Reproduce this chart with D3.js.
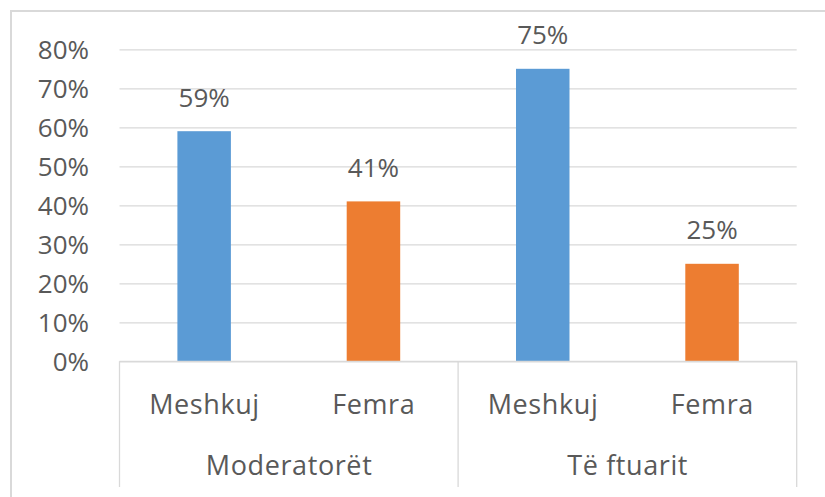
<!DOCTYPE html>
<html>
<head>
<meta charset="utf-8">
<script src="https://cdn.jsdelivr.net/npm/d3@7/dist/d3.min.js"></script>
<style>
  html, body { margin: 0; padding: 0; background: #fff; }
  svg { display: block; font-family: "Open Sans", "Noto Sans", sans-serif; }
</style>
</head>
<body>
<svg id="chart" width="825" height="497"></svg>
<script>
// Gender split of moderators and guests
const groups = ["Moderatorët", "Të ftuarit"];
const categories = ["Meshkuj", "Femra", "Meshkuj", "Femra"];
const categoryGroup = [0, 0, 1, 1];
const values = [0.59, 0.41, 0.75, 0.25];
const series = ["Meshkuj", "Femra"];
const tickValues = [0, 0.1, 0.2, 0.3, 0.4, 0.5, 0.6, 0.7, 0.8];

const W = 825, H = 497;
const plot = { left: 119.5, right: 796.7, top: 49.3, bottom: 361.3 };
const axisBottom = 487;
const gridColor = "#d9d9d9";
const textColor = "#595959";
const colors = d3.scaleOrdinal().domain(series).range(["#5b9bd5", "#ed7d31"]);

const svg = d3.select("#chart");

// Frame (top and left edges)
svg.append("path")
  .attr("d", `M11,${H + 5}V11H${W + 5}`)
  .attr("fill", "none")
  .attr("stroke", gridColor)
  .attr("stroke-width", 2);

const keys = categories.map((c, i) => i);
const x = d3.scaleBand().domain(keys).range([plot.left, plot.right]).paddingInner(0.684).paddingOuter(0.342);
const xSlot = d3.scaleBand().domain(keys).range([plot.left, plot.right]);
const y = d3.scaleLinear().domain([0, 0.8]).range([plot.bottom, plot.top]);

// Horizontal gridlines
const grid = svg.append("g")
  .attr("transform", `translate(${plot.left},0)`)
  .call(d3.axisLeft(y).tickValues(tickValues).tickSize(-(plot.right - plot.left)).tickFormat(""));
grid.select(".domain").remove();
grid.selectAll(".tick line").attr("stroke", gridColor).attr("stroke-width", 1.3);

// Value axis labels
const yAxis = svg.append("g")
  .attr("transform", `translate(89,0)`)
  .call(d3.axisLeft(y).tickValues(tickValues).tickSize(0).tickPadding(0).tickFormat(d3.format(".0%")));
yAxis.select(".domain").remove();
yAxis.selectAll("text")
  .attr("fill", textColor)
  .style("font-size", "26px")
  .style("font-family", "'Open Sans', 'Noto Sans', sans-serif")
  .attr("dy", "0.35em");

// Bars
svg.append("g").selectAll("rect")
  .data(keys)
  .join("rect")
  .attr("x", i => x(i))
  .attr("width", x.bandwidth())
  .attr("y", i => y(values[i]))
  .attr("height", i => y(0) - y(values[i]))
  .attr("fill", i => colors(categories[i]));

// Value labels
svg.append("g").selectAll("text")
  .data(keys)
  .join("text")
  .attr("x", i => x(i) + x.bandwidth() / 2)
  .attr("y", i => y(values[i]) - 24.5)
  .attr("text-anchor", "middle")
  .attr("fill", textColor)
  .style("font-size", "26px")
  .text(i => d3.format(".0%")(values[i]));

// Category axis: baseline and group separators
svg.append("line")
  .attr("x1", plot.left).attr("x2", plot.right)
  .attr("y1", plot.bottom).attr("y2", plot.bottom)
  .attr("stroke", gridColor).attr("stroke-width", 1.3);

const groupBounds = groups.map((g, gi) => {
  const idx = keys.filter(i => categoryGroup[i] === gi);
  const x0 = xSlot(idx[0]);
  const x1 = xSlot(idx[idx.length - 1]) + xSlot.bandwidth();
  return { name: g, x0, x1 };
});
const sepX = [plot.left, ...groupBounds.map(b => b.x1)];
svg.append("g").selectAll("line")
  .data(sepX)
  .join("line")
  .attr("x1", d => d).attr("x2", d => d)
  .attr("y1", plot.bottom).attr("y2", axisBottom)
  .attr("stroke", gridColor).attr("stroke-width", 1.3);

const labelSpacing = 0.6;

// Category labels
svg.append("g").selectAll("text")
  .data(keys)
  .join("text")
  .attr("x", i => xSlot(i) + xSlot.bandwidth() / 2 + labelSpacing / 2)
  .attr("y", 413.5)
  .attr("text-anchor", "middle")
  .attr("fill", textColor)
  .style("font-size", "27px")
  .style("letter-spacing", labelSpacing + "px")
  .text(i => categories[i]);

// Group labels
svg.append("g").selectAll("text")
  .data(groupBounds)
  .join("text")
  .attr("x", b => (b.x0 + b.x1) / 2 + labelSpacing / 2)
  .attr("y", 475)
  .attr("text-anchor", "middle")
  .attr("fill", textColor)
  .style("font-size", "27px")
  .style("letter-spacing", labelSpacing + "px")
  .text(b => b.name);
</script>
</body>
</html>
